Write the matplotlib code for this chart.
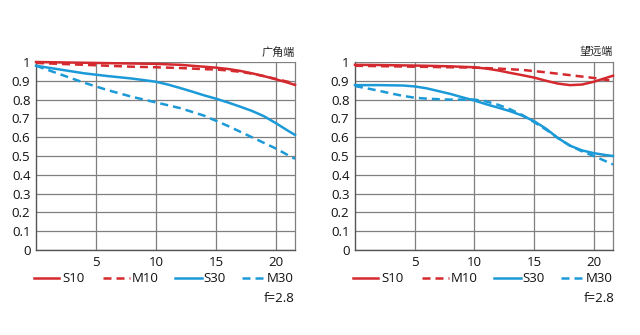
import matplotlib
matplotlib.use("Agg")
import matplotlib.pyplot as plt
from matplotlib.lines import Line2D

plt.rcParams['font.family'] = ['Open Sans', 'Noto Sans CJK SC', 'DejaVu Sans']

RED = '#d42a2f'
BLUE = '#1c9ad8'

titles = ['广角端', '望远端']
series_names = ['S10', 'M10', 'S30', 'M30']
aperture_label = 'f=2.8'

# Wide end
w_s10_x = [0, 2, 4, 6, 8, 10, 12, 14, 15, 16, 17, 18, 19, 20, 21, 21.6]
w_s10_y = [1.0, 0.998, 0.996, 0.994, 0.992, 0.99, 0.985, 0.975, 0.97, 0.963, 0.953, 0.94, 0.925, 0.908, 0.89, 0.878]
w_m10_x = [0, 2, 4, 6, 8, 10, 12, 14, 15, 16, 17, 18, 19, 20, 21, 21.6]
w_m10_y = [0.995, 0.99, 0.985, 0.98, 0.975, 0.972, 0.968, 0.962, 0.96, 0.955, 0.948, 0.938, 0.925, 0.91, 0.895, 0.885]
w_s30_x = [0, 2, 4, 6, 8, 10, 11, 12, 13, 14, 15, 16, 17, 18, 19, 20, 21, 21.6]
w_s30_y = [0.98, 0.96, 0.94, 0.925, 0.912, 0.895, 0.88, 0.862, 0.843, 0.823, 0.805, 0.785, 0.763, 0.74, 0.712, 0.675, 0.635, 0.612]
w_m30_x = [0, 2, 4, 6, 8, 10, 12, 14, 16, 18, 20, 21, 21.6]
w_m30_y = [0.98, 0.935, 0.89, 0.85, 0.815, 0.785, 0.755, 0.715, 0.66, 0.6, 0.54, 0.505, 0.485]

# Tele end
t_s10_x = [0, 2, 4, 6, 8, 10, 11, 12, 13, 14, 15, 16, 17, 18, 19, 20, 21, 21.6]
t_s10_y = [0.985, 0.984, 0.982, 0.98, 0.977, 0.972, 0.965, 0.955, 0.942, 0.93, 0.917, 0.9, 0.885, 0.877, 0.88, 0.895, 0.915, 0.927]
t_m10_x = [0, 2, 4, 6, 8, 10, 12, 14, 16, 18, 20, 21, 21.6]
t_m10_y = [0.98, 0.978, 0.976, 0.974, 0.972, 0.97, 0.965, 0.958, 0.945, 0.93, 0.915, 0.905, 0.9]
t_s30_x = [0, 2, 4, 5, 6, 7, 8, 9, 10, 11, 12, 13, 14, 15, 16, 17, 18, 19, 20, 21, 21.6]
t_s30_y = [0.877, 0.877, 0.875, 0.87, 0.86, 0.845, 0.83, 0.812, 0.795, 0.775, 0.757, 0.738, 0.715, 0.685, 0.645, 0.595, 0.555, 0.53, 0.515, 0.505, 0.5]
t_m30_x = [0, 1, 2, 3, 4, 5, 6, 7, 8, 9, 10, 11, 12, 13, 14, 15, 16, 17, 18, 19, 20, 21, 21.6]
t_m30_y = [0.872, 0.86, 0.847, 0.833, 0.82, 0.81, 0.805, 0.802, 0.8, 0.8, 0.8, 0.79, 0.772, 0.748, 0.718, 0.68, 0.64, 0.595, 0.555, 0.525, 0.5, 0.472, 0.455]

x_ticks = [5, 10, 15, 20]
y_ticks = [0, 0.1, 0.2, 0.3, 0.4, 0.5, 0.6, 0.7, 0.8, 0.9, 1.0]
y_tick_labels = ['0', '0.1', '0.2', '0.3', '0.4', '0.5', '0.6', '0.7', '0.8', '0.9', '1']

panels = [
    [(w_s10_x, w_s10_y), (w_m10_x, w_m10_y), (w_s30_x, w_s30_y), (w_m30_x, w_m30_y)],
    [(t_s10_x, t_s10_y), (t_m10_x, t_m10_y), (t_s30_x, t_s30_y), (t_m30_x, t_m30_y)],
]
styles = [(RED, '-'), (RED, (0, (3.2, 2))), (BLUE, '-'), (BLUE, (0, (3.2, 2)))]

W, H = 640, 335
fig = plt.figure(figsize=(6.4, 3.35), dpi=100)

def fx(px):
    return px / W

def fy(py):
    return 1 - py / H

axes_px = [(36, 295), (355, 613)]
top_px, bot_px = 62, 250

for i, (x0, x1) in enumerate(axes_px):
    ax = fig.add_axes([fx(x0), fy(bot_px), fx(x1 - x0), (bot_px - top_px) / H])
    for (xs, ys), (c, ls) in zip(panels[i], styles):
        ax.plot(xs, ys, color=c, linestyle=ls, lw=1.8, zorder=3, clip_on=False)
    ax.set_xlim(0, 21.6)
    ax.set_ylim(0, 1)
    ax.set_xticks(x_ticks)
    ax.set_yticks(y_ticks)
    ax.set_yticklabels(y_tick_labels)
    ax.grid(True, color='#7f7f7f', lw=0.9)
    ax.tick_params(length=0, labelsize=9.5, colors='#111111', pad=4)
    ax.spines['top'].set_visible(False)
    for s in ['left', 'bottom']:
        ax.spines[s].set_color('#555555')
        ax.spines[s].set_linewidth(1.0)
    ax.spines['right'].set_color('#7f7f7f')
    ax.spines['right'].set_linewidth(0.9)
    ax.set_axisbelow(True)
    fig.text(fx(x1), fy(52), titles[i], ha='right', va='center', fontsize=8,
             family=['Noto Sans CJK SC', 'DejaVu Sans'], color='#222222')

    # legend row
    off = x0 - 36
    leg = [(34, 59, 62), (103, 130, 132), (175, 202, 203), (242, 267, 267)]
    for (a, b, t), name, (c, ls) in zip(leg, series_names, styles):
        fig.add_artist(Line2D([fx(a + off), fx(b + off)], [fy(278), fy(278)],
                              color=c, linestyle=ls, lw=1.8))
        fig.text(fx(t + off), fy(278), name, ha='left', va='center', fontsize=9.5, color='#111111')
    fig.text(fx(295 + off), fy(299), aperture_label, ha='right', va='center', fontsize=9.5, color='#111111')

fig.savefig('out.png', dpi=100)
